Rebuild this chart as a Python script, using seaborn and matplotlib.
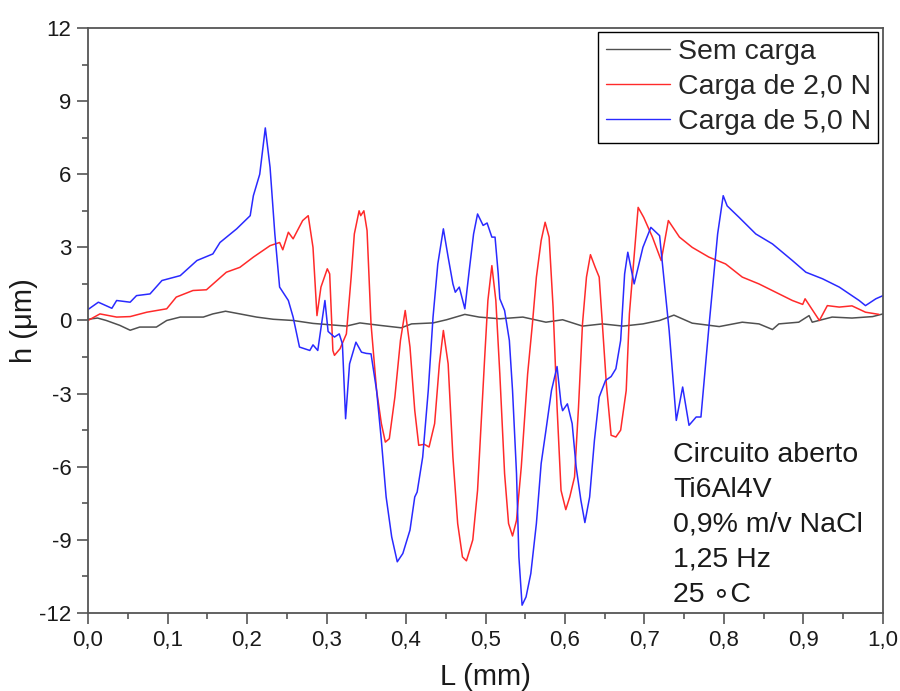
import matplotlib
matplotlib.use("Agg")
import matplotlib.pyplot as plt
import seaborn as sns
import pandas as pd
import numpy as np

# ---------------- data ----------------
L_sem = [0.0, 0.012, 0.023, 0.040, 0.053, 0.065, 0.086, 0.099, 0.116, 0.145, 0.157, 0.173,
         0.191, 0.212, 0.233, 0.258, 0.283, 0.325, 0.342, 0.367, 0.394, 0.407, 0.434, 0.451,
         0.474, 0.492, 0.518, 0.547, 0.576, 0.597, 0.622, 0.647, 0.673, 0.698, 0.719, 0.737,
         0.760, 0.794, 0.823, 0.844, 0.861, 0.869, 0.894, 0.907, 0.911, 0.936, 0.961, 0.987, 1.0]
h_sem = [0.05, 0.1, 0.0, -0.2, -0.4, -0.27, -0.27, 0.0, 0.14, 0.14, 0.27, 0.38,
         0.27, 0.14, 0.05, 0.0, -0.12, -0.23, -0.1, -0.2, -0.3, -0.14, -0.1, 0.03,
         0.25, 0.14, 0.07, 0.14, -0.07, 0.03, -0.23, -0.14, -0.23, -0.14, 0.0, 0.22,
         -0.11, -0.25, -0.07, -0.14, -0.37, -0.14, -0.07, 0.2, -0.07, 0.14, 0.1, 0.16, 0.27]

L_2N = [0.0, 0.015, 0.036, 0.053, 0.074, 0.099, 0.111, 0.132, 0.149, 0.174, 0.191, 0.208,
        0.229, 0.241, 0.245, 0.252, 0.258, 0.270, 0.277, 0.283, 0.288, 0.293, 0.301, 0.304,
        0.308, 0.310, 0.317, 0.325, 0.331, 0.335, 0.341, 0.343, 0.347, 0.351, 0.356, 0.363,
        0.369, 0.374, 0.379, 0.386, 0.393, 0.399, 0.405, 0.411, 0.416, 0.423, 0.429, 0.436,
        0.442, 0.447, 0.453, 0.459, 0.465, 0.471, 0.476, 0.484, 0.490, 0.499, 0.503, 0.508,
        0.513, 0.518, 0.524, 0.529, 0.534, 0.539, 0.545, 0.553, 0.559, 0.564, 0.570, 0.575,
        0.580, 0.585, 0.590, 0.595, 0.601, 0.606, 0.612, 0.617, 0.622, 0.627, 0.632, 0.638,
        0.643, 0.647, 0.652, 0.658, 0.664, 0.670, 0.677, 0.681, 0.692, 0.699, 0.710, 0.721,
        0.724, 0.730, 0.744, 0.760, 0.781, 0.802, 0.823, 0.844, 0.865, 0.886, 0.899, 0.902,
        0.920, 0.930, 0.945, 0.961, 0.978, 0.995]
h_2N = [0.0, 0.27, 0.14, 0.16, 0.34, 0.48, 0.96, 1.23, 1.26, 1.98, 2.18, 2.6,
        3.07, 3.2, 2.9, 3.62, 3.35, 4.1, 4.3, 3.0, 0.2, 1.37, 2.12, 1.91,
        -1.23, -1.43, -1.16, -0.55, 1.78, 3.55, 4.5, 4.3, 4.5, 3.69, -0.14, -2.87,
        -4.23, -4.99, -4.85, -3.14, -0.82, 0.41, -1.09, -3.69, -5.12, -5.08, -5.19, -4.23,
        -1.78, -0.41, -1.78, -5.6, -8.33, -9.7, -9.86, -9.0, -6.97, -1.5, 0.82, 2.25,
        0.82, -2.19, -6.28, -8.33, -8.84, -8.2, -6.01, -2.19, -0.14, 1.78, 3.28, 4.03,
        3.42, 0.55, -3.55, -6.97, -7.76, -7.24, -6.42, -3.55, -0.14, 1.78, 2.7, 2.18,
        1.78, -0.14, -2.6, -4.71, -4.78, -4.5, -2.87, 0.27, 4.64, 4.23, 3.42, 2.46,
        3.0, 4.1, 3.42, 3.0, 2.6, 2.32, 1.78, 1.5, 1.16, 0.82, 0.66, 0.89,
        0.0, 0.61, 0.55, 0.6, 0.34, 0.25]

L_5N = [0.0, 0.013, 0.030, 0.036, 0.053, 0.061, 0.078, 0.093, 0.116, 0.137, 0.157, 0.166,
        0.187, 0.204, 0.208, 0.216, 0.223, 0.229, 0.235, 0.241, 0.252, 0.258, 0.266, 0.279,
        0.283, 0.289, 0.298, 0.302, 0.310, 0.316, 0.320, 0.324, 0.329, 0.337, 0.344, 0.350,
        0.356, 0.363, 0.369, 0.375, 0.382, 0.389, 0.396, 0.405, 0.411, 0.414, 0.421, 0.428,
        0.434, 0.440, 0.447, 0.453, 0.459, 0.462, 0.467, 0.474, 0.480, 0.485, 0.490, 0.497,
        0.502, 0.508, 0.512, 0.516, 0.518, 0.524, 0.530, 0.534, 0.539, 0.542, 0.546, 0.551,
        0.557, 0.564, 0.570, 0.576, 0.583, 0.590, 0.595, 0.597, 0.603, 0.609, 0.614, 0.620,
        0.625, 0.631, 0.637, 0.643, 0.651, 0.658, 0.664, 0.670, 0.675, 0.679, 0.687, 0.698,
        0.708, 0.719, 0.723, 0.731, 0.740, 0.748, 0.756, 0.765, 0.771, 0.781, 0.792, 0.799,
        0.804, 0.819, 0.840, 0.861, 0.886, 0.903, 0.924, 0.945, 0.970, 0.978, 0.991, 1.0]
h_5N = [0.45, 0.75, 0.5, 0.82, 0.75, 1.02, 1.09, 1.64, 1.84, 2.46, 2.73, 3.2,
        3.76, 4.3, 5.12, 6.0, 7.9, 6.28, 3.55, 1.37, 0.82, 0.14, -1.09, -1.23,
        -1.0, -1.23, 0.82, -0.45, -0.68, -0.55, -0.96, -4.03, -1.78, -0.89, -1.3, -1.35,
        -1.37, -2.87, -4.92, -7.24, -8.88, -9.9, -9.56, -8.6, -7.24, -7.04, -5.6, -2.87,
        0.14, 2.32, 3.76, 2.6, 1.5, 1.16, 1.37, 0.48, 2.18, 3.55, 4.37, 3.9,
        4.0, 3.42, 3.42, 1.91, 0.89, 0.41, -0.82, -2.87, -6.28, -9.7, -11.68, -11.34,
        -10.38, -8.33, -5.87, -4.51, -2.87, -1.89, -3.42, -3.7, -3.42, -4.23, -6.01, -7.38,
        -8.29, -7.24, -4.92, -3.14, -2.46, -2.3, -1.98, -0.82, 1.91, 2.8, 1.50, 3.0,
        3.82, 3.48, 2.18, -0.41, -4.1, -2.73, -4.3, -3.96, -3.96, -0.27, 3.55, 5.12,
        4.7, 4.23, 3.55, 3.14, 2.46, 1.98, 1.71, 1.37, 0.82, 0.61, 0.89, 1.02]

series_names = ["Sem carga", "Carga de 2,0 N", "Carga de 5,0 N"]
series_colors = ["#505050", "#ff2a2a", "#2a2aff"]

x_ticks = [0.0, 0.1, 0.2, 0.3, 0.4, 0.5, 0.6, 0.7, 0.8, 0.9, 1.0]
x_ticklabels = ["0,0", "0,1", "0,2", "0,3", "0,4", "0,5", "0,6", "0,7", "0,8", "0,9", "1,0"]
y_ticks = [-12, -9, -6, -3, 0, 3, 6, 9, 12]
y_ticklabels = ["-12", "-9", "-6", "-3", "0", "3", "6", "9", "12"]

info_lines = ["Circuito aberto", "Ti6Al4V", "0,9% m/v NaCl", "1,25 Hz", "25 \u2218C"]

# ---------------- build table ----------------
df = pd.concat([
    pd.DataFrame({"L": L_sem, "h": h_sem, "serie": series_names[0]}),
    pd.DataFrame({"L": L_2N, "h": h_2N, "serie": series_names[1]}),
    pd.DataFrame({"L": L_5N, "h": h_5N, "serie": series_names[2]}),
], ignore_index=True)

sns.set_style("ticks")
plt.rcParams["font.family"] = ["Liberation Sans", "DejaVu Sans"]

fig = plt.figure(figsize=(9.0, 6.91), dpi=100)
ax = fig.add_axes([0.0978, 0.1129, 0.8833, 0.8466])

sns.lineplot(data=df, x="L", y="h", hue="serie", hue_order=series_names,
             palette=dict(zip(series_names, series_colors)), estimator=None,
             sort=False, linewidth=1.1, ax=ax)
for ln in ax.get_lines():
    ln.set_solid_joinstyle("round")

ax.set_xlim(0, 1.0)
ax.set_ylim(-12, 12)
ax.set_xticks(x_ticks)
ax.set_xticklabels(x_ticklabels)
ax.set_yticks(y_ticks)
ax.set_yticklabels(y_ticklabels)
ax.set_xticks(np.arange(0.05, 1.0, 0.1), minor=True)
ax.set_yticks(np.arange(-10.5, 12, 3), minor=True)

spine_col = "#555555"
for s in ax.spines.values():
    s.set_color(spine_col)
    s.set_linewidth(1.3)
ax.tick_params(axis="both", which="major", direction="out", length=8, width=1.2,
               color=spine_col, labelsize=16, labelcolor="#1a1a1a", pad=4)
ax.tick_params(axis="both", which="minor", direction="out", length=4.5, width=1.2,
               color=spine_col)
ax.tick_params(top=False, right=False, which="both")

ax.set_xlabel("L (mm)", fontsize=21, labelpad=9, color="#1a1a1a")
ax.set_ylabel("h (\u03bcm)", fontsize=21, labelpad=1, color="#1a1a1a")

leg = ax.legend(loc="upper right", bbox_to_anchor=(0.994, 0.9935), borderaxespad=0,
                fontsize=20.5, frameon=True, fancybox=False, framealpha=1,
                edgecolor="black", handlelength=2.25, handletextpad=0.28,
                labelspacing=0.32, borderpad=0.26, title=None)
leg.get_frame().set_linewidth(1.0)
for line in leg.get_lines():
    line.set_linewidth(1.0)

ax.text(0.736, 0.293, "\n".join(info_lines), transform=ax.transAxes, fontsize=20.5,
        va="top", ha="left", linespacing=1.45, color="#1a1a1a")

fig.savefig("out.png", dpi=100, facecolor="white")
